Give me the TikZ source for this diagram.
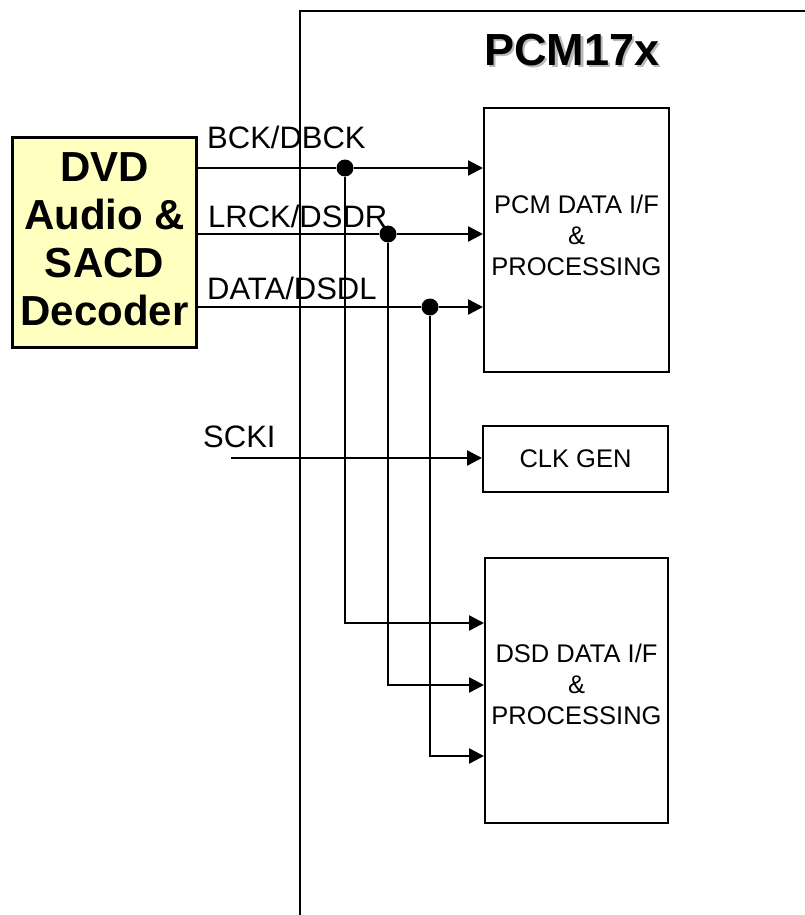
\documentclass[tikz,border=0pt]{standalone}
\usepackage{fontspec}
\setmainfont{Liberation Sans}
\usepackage{xcolor}
\usetikzlibrary{arrows.meta, positioning, calc}
\definecolor{decoderfill}{RGB}{255,255,192}

\begin{document}
\begin{tikzpicture}[
    x=1pt, y=-1pt,
    block/.style={
        draw=black,
        line width=2pt,
        align=center,
        inner sep=0pt,
        minimum width=185pt,
        font=\fontsize{25.5}{31}\selectfont
    },
    decoder/.style={
        draw=black,
        line width=3pt,
        fill=decoderfill,
        align=center,
        inner sep=0pt,
        minimum width=184pt,
        minimum height=210pt,
        font=\fontsize{42}{48}\selectfont\bfseries
    },
    sig/.style={line width=2.4pt},
    arrow/.style={sig, -{Triangle[length=15pt, width=15pt]}},
    junction/.style={circle, fill=black, inner sep=0pt, minimum size=17pt},
    siglabel/.style={anchor=base west, inner sep=0pt, font=\fontsize{31}{37}\selectfont}
]
\useasboundingbox (0,0) rectangle (805,915);

\draw[line width=2.4pt] (300,920) |- (810,11);
\node[text=gray!55, font=\fontsize{45}{54}\selectfont\bfseries] (titleshadow) at (574.5,52.5) {PCM17x};
\node[font=\fontsize{45}{54}\selectfont\bfseries] (title) at (572,50) {PCM17x};

\node[decoder, text depth=6pt] (dvd) at (104.5,242.5) {DVD\\Audio \&\\SACD\\Decoder};

\node[block, minimum height=264pt, text depth=9pt] (pcm) at (576.5,240) {PCM DATA I/F\\\&\\ PROCESSING};
\node[block, minimum height=66pt] (clk) at (575.5,459) {CLK GEN};
\node[block, minimum height=265pt, minimum width=183pt, text depth=12pt] (dsd) at (576.5,690.5) {DSD DATA I/F\\\&\\ PROCESSING};

\node[junction] (jbck) at (345,168) {};
\node[junction] (jlrck) at (388,234) {};
\node[junction] (jdata) at (430,307) {};

\node[siglabel] (lbck) at (207,148) {BCK/DBCK};
\node[siglabel] (llrck) at (208,227) {LRCK/DSDR};
\node[siglabel] (ldata) at (207,299) {DATA/DSDL};
\node[siglabel] (lscki) at (203,447) {SCKI};

\coordinate (scki) at (231,458);
\coordinate (dsdin1) at (dsd.west |- 0,623);
\coordinate (dsdin2) at (dsd.west |- 0,685);
\coordinate (dsdin3) at (dsd.west |- 0,756);

\draw[sig] (dvd.east |- jbck) -- (jbck);
\draw[sig] (dvd.east |- jlrck) -- (jlrck);
\draw[sig] (dvd.east |- jdata) -- (jdata);
\draw[arrow] (jbck) -- (pcm.west |- jbck);
\draw[arrow] (jlrck) -- (pcm.west |- jlrck);
\draw[arrow] (jdata) -- (pcm.west |- jdata);

\draw[arrow] (scki) -- (clk.west |- scki);

\draw[arrow] (jbck) |- (dsdin1);
\draw[arrow] (jlrck) |- (dsdin2);
\draw[arrow] (jdata) |- (dsdin3);

\end{tikzpicture}
\end{document}
